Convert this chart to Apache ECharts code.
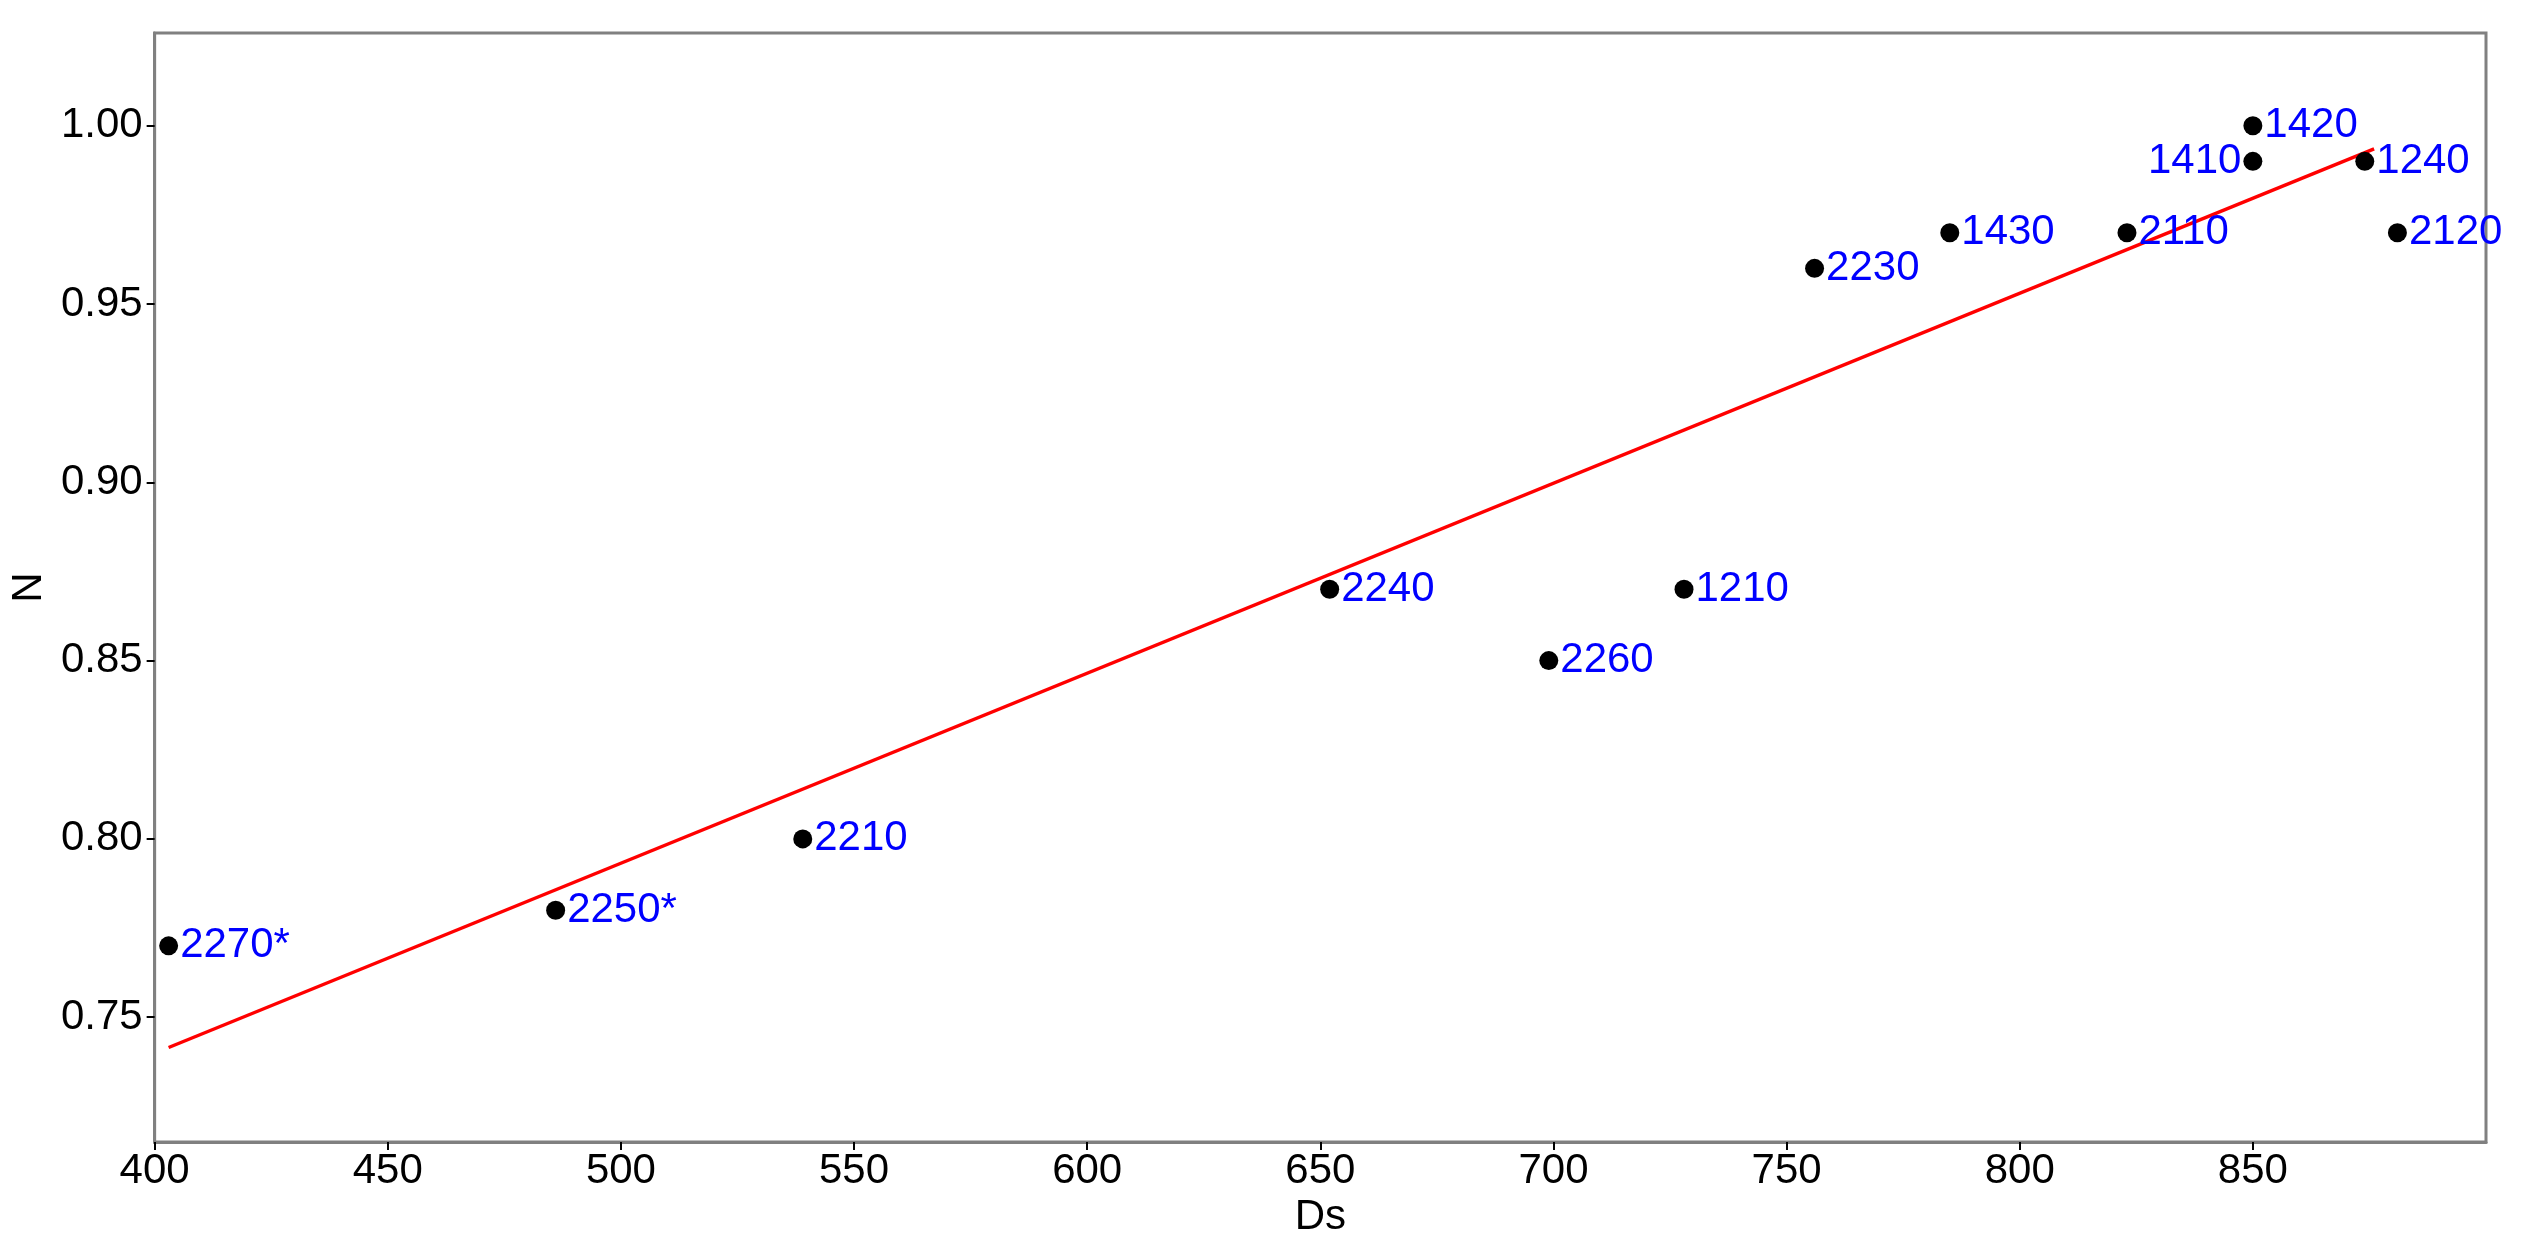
<!DOCTYPE html><html><head><meta charset="utf-8"><script src="https://cdn.jsdelivr.net/npm/echarts@6/dist/echarts.min.js"></script>
<style>html,body{margin:0;padding:0;background:#fff}#c{width:2548px;height:1258px}</style></head><body><div id="c"></div><script>
const names=['2270*','2250*','2210','2240','2260','1210','2230','1430','2110','1410','1420','1240','2120'];
const dsVals=[403,486,539,652,699,728,756,785,823,850,850,874,881];
const nVals=[0.77,0.78,0.80,0.87,0.85,0.87,0.96,0.97,0.97,0.99,1.00,0.99,0.97];
const fitX=[403,876];
const fitY=[0.7415,0.9935];
const xTicks=[400,450,500,550,600,650,700,750,800,850];
const yTicks=[0.75,0.80,0.85,0.90,0.95,1.00];
const F='Liberation Sans';
const chart=echarts.init(document.getElementById('c'));
chart.setOption({
 animation:false,
 grid:{left:143,right:62,top:33,bottom:116,show:true,borderColor:'#808080',borderWidth:3},
 xAxis:{type:'value',min:400,max:900,interval:50,name:'Ds',nameLocation:'middle',nameGap:40,
  nameTextStyle:{fontFamily:F,fontSize:42,color:'#000'},
  axisLine:{lineStyle:{color:'#808080',width:3}},
  axisTick:{customValues:xTicks,length:8,lineStyle:{color:'#000',width:2}},
  axisLabel:{fontFamily:F,fontSize:42,color:'#000',margin:8,customValues:xTicks},splitLine:{show:false}},
 yAxis:{type:'value',min:0.715,max:1.026,interval:0.05,name:'N',nameLocation:'middle',nameGap:92,
  nameTextStyle:{fontFamily:F,fontSize:42,color:'#000'},
  axisLine:{lineStyle:{color:'#808080',width:3}},
  axisLabel:{fontFamily:F,fontSize:42,color:'#000',margin:12,customValues:yTicks,formatter:v=>v.toFixed(2)},
  axisTick:{customValues:yTicks,length:8,lineStyle:{color:'#000',width:2}},splitLine:{show:false}},
 series:[
  {type:'line',data:fitX.map((x,i)=>[x,fitY[i]]),symbol:'none',lineStyle:{color:'#ff0000',width:3.5},z:2},
  {type:'scatter',data:dsVals.map((x,i)=>({value:[x,nVals[i]],label:{position:names[i]==='1410'?'left':'right'}})),
   symbolSize:19,itemStyle:{color:'#000',opacity:1},z:3,
   label:{show:true,formatter:p=>names[p.dataIndex],color:'#0000ff',fontFamily:F,fontSize:42,distance:2}}
 ]});
</script></body></html>
